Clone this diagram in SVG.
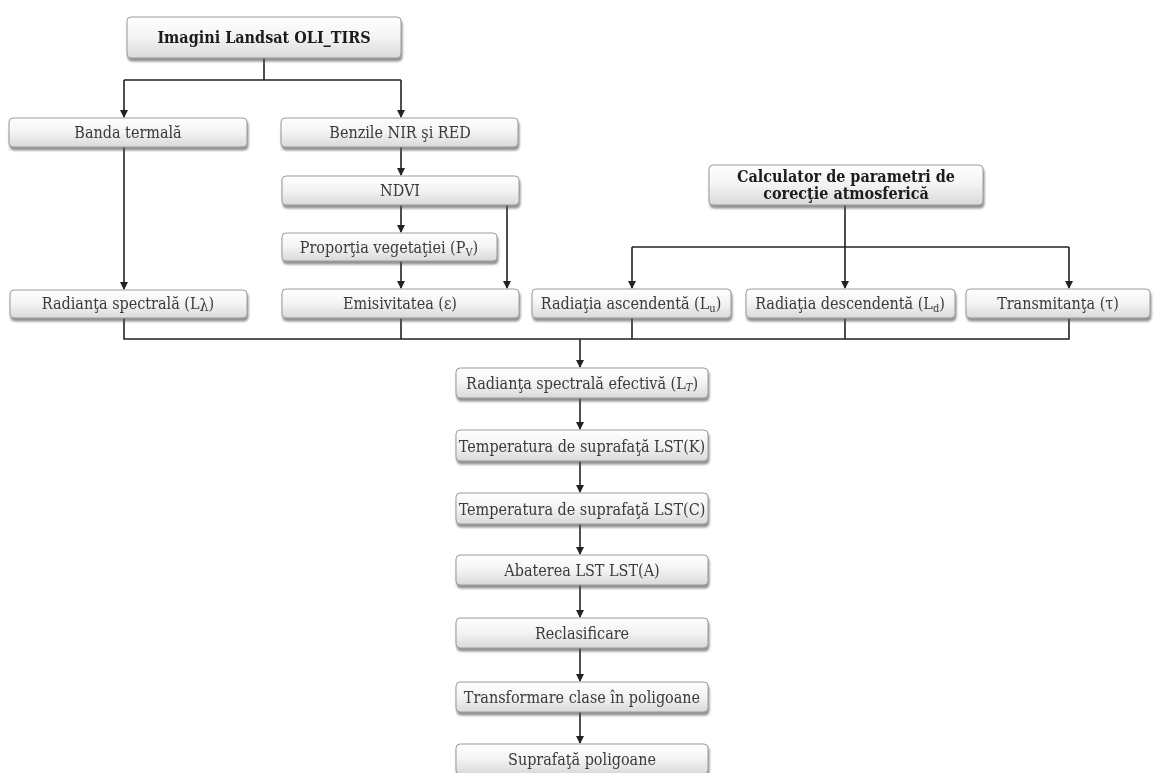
<svg xmlns="http://www.w3.org/2000/svg" width="1158" height="773" viewBox="0 0 1158 773">
<style>
.box{fill:url(#g);stroke:#9a9a9a;stroke-width:1}
.t{font-family:"DejaVu Serif Condensed","DejaVu Serif","Liberation Serif",serif;font-stretch:condensed;font-size:16px;fill:#3a3a3a;text-anchor:middle}
.b{font-family:"DejaVu Serif Condensed","DejaVu Serif","Liberation Serif",serif;font-stretch:condensed;font-size:16px;font-weight:bold;fill:#1a1a1a;text-anchor:middle}
.s{font-size:11px}
.c{fill:none;stroke:#222;stroke-width:1.6}
</style>
<defs>
<linearGradient id="g" x1="0" y1="0" x2="0" y2="1">
<stop offset="0" stop-color="#ffffff"/>
<stop offset="0.5" stop-color="#f3f3f3"/>
<stop offset="1" stop-color="#d9d9d9"/>
</linearGradient>
<filter id="sh" x="-5%" y="-20%" width="110%" height="160%">
<feDropShadow dx="1" dy="3" stdDeviation="1.2" flood-color="#555" flood-opacity="0.65"/>
</filter>
<marker id="a" markerWidth="8" markerHeight="8" refX="7" refY="4" orient="auto" markerUnits="userSpaceOnUse">
<path d="M0,0 L8,4 L0,8 z" fill="#222"/>
</marker>
</defs>
<rect width="1158" height="773" fill="#fff"/>
<g id="connectors">
<path class="c" d="M264,58 V80"/>
<path class="c" d="M124,80 H401"/>
<path class="c" d="M124,80 V117" marker-end="url(#a)"/>
<path class="c" d="M401,80 V117" marker-end="url(#a)"/>
<path class="c" d="M401,147 V175" marker-end="url(#a)"/>
<path class="c" d="M401,205 V232" marker-end="url(#a)"/>
<path class="c" d="M401,261 V288" marker-end="url(#a)"/>
<path class="c" d="M507,205 V288" marker-end="url(#a)"/>
<path class="c" d="M124,147 V289" marker-end="url(#a)"/>
<path class="c" d="M845,205 V288" marker-end="url(#a)"/>
<path class="c" d="M632,247 H1069"/>
<path class="c" d="M632,247 V288" marker-end="url(#a)"/>
<path class="c" d="M1069,247 V288" marker-end="url(#a)"/>
<path class="c" d="M124,318 V339 H1069 V318"/>
<path class="c" d="M401,318 V339"/>
<path class="c" d="M632,318 V339"/>
<path class="c" d="M845,318 V339"/>
<path class="c" d="M580,339 V367" marker-end="url(#a)"/>
<path class="c" d="M580,398 V429" marker-end="url(#a)"/>
<path class="c" d="M580,461 V492" marker-end="url(#a)"/>
<path class="c" d="M580,524 V554" marker-end="url(#a)"/>
<path class="c" d="M580,585 V617" marker-end="url(#a)"/>
<path class="c" d="M580,648 V681" marker-end="url(#a)"/>
<path class="c" d="M580,712 V743" marker-end="url(#a)"/>
</g>
<g id="n_landsat" filter="url(#sh)"><rect class="box" x="127" y="17" width="274" height="41" rx="4"/><text class="b" x="264" y="43">Imagini Landsat OLI_TIRS</text></g>
<g id="n_banda" filter="url(#sh)"><rect class="box" x="9" y="118" width="238" height="29" rx="4"/><text class="t" x="128" y="138">Banda termală</text></g>
<g id="n_benzile" filter="url(#sh)"><rect class="box" x="281" y="118" width="237" height="29" rx="4"/><text class="t" x="400" y="138">Benzile NIR şi RED</text></g>
<g id="n_ndvi" filter="url(#sh)"><rect class="box" x="282" y="176" width="237" height="29" rx="4"/><text class="t" x="400" y="196">NDVI</text></g>
<g id="n_pv" filter="url(#sh)"><rect class="box" x="282" y="233" width="215" height="28" rx="4"/><text class="t" x="389" y="253">Proporţia vegetaţiei (P<tspan class="s" dy="3">V</tspan><tspan dy="-3">)</tspan></text></g>
<g id="n_emis" filter="url(#sh)"><rect class="box" x="282" y="289" width="237" height="29" rx="4"/><text class="t" x="400" y="309">Emisivitatea (ε)</text></g>
<g id="n_rad" filter="url(#sh)"><rect class="box" x="10" y="290" width="237" height="28" rx="4"/><text class="t" x="128" y="309">Radianţa spectrală (L<tspan dy="2">λ</tspan><tspan dy="-2">)</tspan></text></g>
<g id="n_calc" filter="url(#sh)"><rect class="box" x="709" y="165" width="274" height="40" rx="4"/><text class="b" x="846" y="182">Calculator de parametri de</text><text class="b" x="846" y="199">corecţie atmosferică</text></g>
<g id="n_lu" filter="url(#sh)"><rect class="box" x="532" y="289" width="199" height="29" rx="4"/><text class="t" x="631" y="309">Radiaţia ascendentă (L<tspan class="s" dy="3">u</tspan><tspan dy="-3">)</tspan></text></g>
<g id="n_ld" filter="url(#sh)"><rect class="box" x="746" y="289" width="209" height="29" rx="4"/><text class="t" x="850" y="309">Radiaţia descendentă (L<tspan class="s" dy="3">d</tspan><tspan dy="-3">)</tspan></text></g>
<g id="n_tau" filter="url(#sh)"><rect class="box" x="966" y="289" width="184" height="29" rx="4"/><text class="t" x="1058" y="309">Transmitanţa (τ)</text></g>
<g id="n_lt" filter="url(#sh)"><rect class="box" x="456" y="368" width="252" height="30" rx="4"/><text class="t" x="582" y="389">Radianţa spectrală efectivă (L<tspan class="s" dy="2" font-style="italic">T</tspan><tspan dy="-2">)</tspan></text></g>
<g id="n_lstk" filter="url(#sh)"><rect class="box" x="456" y="430" width="252" height="31" rx="4"/><text class="t" x="582" y="452">Temperatura de suprafaţă LST(K)</text></g>
<g id="n_lstc" filter="url(#sh)"><rect class="box" x="456" y="493" width="252" height="31" rx="4"/><text class="t" x="582" y="515">Temperatura de suprafaţă LST(C)</text></g>
<g id="n_abat" filter="url(#sh)"><rect class="box" x="456" y="555" width="252" height="30" rx="4"/><text class="t" x="582" y="576">Abaterea LST LST(A)</text></g>
<g id="n_recl" filter="url(#sh)"><rect class="box" x="456" y="618" width="252" height="30" rx="4"/><text class="t" x="582" y="639">Reclasificare</text></g>
<g id="n_trans" filter="url(#sh)"><rect class="box" x="456" y="682" width="252" height="30" rx="4"/><text class="t" x="582" y="703">Transformare clase în poligoane</text></g>
<g id="n_supr" filter="url(#sh)"><rect class="box" x="456" y="744" width="252" height="30" rx="4"/><text class="t" x="582" y="765">Suprafaţă poligoane</text></g>
</svg>
